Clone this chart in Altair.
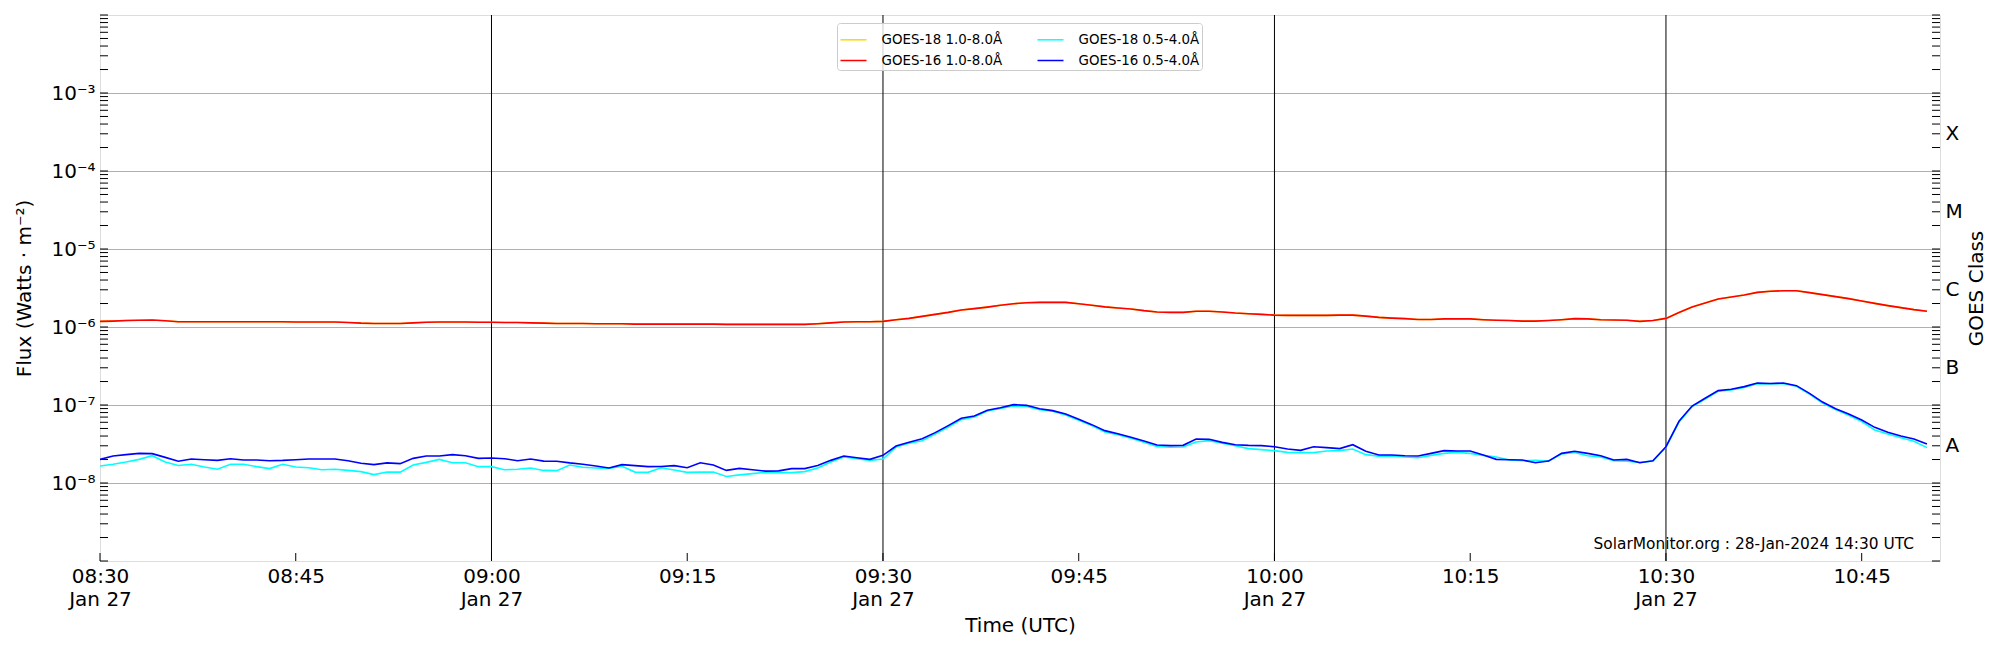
import altair as alt
import pandas as pd

# ---------------- data (1-minute cadence starting 2024-01-27 08:30 UTC) ----------------
START = "2024-01-27 08:30"

# GOES-16 1.0-8.0 A, in units of 1e-6 W/m^2
g16_long = [
    1.18, 1.19, 1.21, 1.22, 1.23, 1.20, 1.17, 1.17, 1.17, 1.17, 1.17, 1.17,
    1.17, 1.17, 1.17, 1.16, 1.16, 1.16, 1.16, 1.14, 1.12, 1.11, 1.11, 1.11,
    1.13, 1.15, 1.16, 1.16, 1.16, 1.15, 1.15, 1.14, 1.14, 1.13, 1.12, 1.11,
    1.11, 1.11, 1.10, 1.10, 1.10, 1.09, 1.09, 1.09, 1.09, 1.09, 1.09, 1.09,
    1.08, 1.08, 1.08, 1.08, 1.08, 1.08, 1.08, 1.10, 1.13, 1.16, 1.17, 1.17,
    1.18, 1.24, 1.29, 1.37, 1.45, 1.54, 1.65, 1.72, 1.80, 1.90, 1.99, 2.05,
    2.07, 2.07, 2.07, 1.99, 1.90, 1.81, 1.75, 1.70, 1.62, 1.56, 1.54, 1.54,
    1.59, 1.59, 1.56, 1.51, 1.48, 1.45, 1.42, 1.41, 1.41, 1.41, 1.41, 1.42,
    1.42, 1.38, 1.33, 1.30, 1.28, 1.25, 1.25, 1.27, 1.27, 1.27, 1.24, 1.22,
    1.21, 1.19, 1.19, 1.21, 1.24, 1.28, 1.27, 1.24, 1.23, 1.22, 1.18, 1.21,
    1.29, 1.53, 1.81, 2.03, 2.28, 2.42, 2.57, 2.78, 2.87, 2.92, 2.92, 2.76,
    2.60, 2.45, 2.31, 2.15, 2.01, 1.88, 1.77, 1.67, 1.59,
]

# GOES-18 1.0-8.0 A (drawn underneath GOES-16 and hidden by it), units of 1e-6 W/m^2
g18_long = list(g16_long)

# GOES-16 0.5-4.0 A, in units of 1e-8 W/m^2
g16_short = [
    2.01, 2.22, 2.31, 2.40, 2.38, 2.13, 1.90, 2.03, 1.99, 1.95, 2.05, 1.97,
    1.97, 1.93, 1.95, 1.99, 2.03, 2.03, 2.03, 1.93, 1.79, 1.72, 1.81, 1.77,
    2.07, 2.22, 2.22, 2.31, 2.24, 2.07, 2.09, 2.05, 1.93, 2.03, 1.91, 1.90,
    1.81, 1.74, 1.65, 1.56, 1.72, 1.67, 1.62, 1.63, 1.67, 1.57, 1.82, 1.70,
    1.45, 1.54, 1.48, 1.42, 1.43, 1.53, 1.53, 1.68, 1.95, 2.22, 2.11, 2.01,
    2.26, 2.98, 3.32, 3.70, 4.42, 5.44, 6.75, 7.23, 8.55, 9.24, 10.1, 9.9,
    8.97, 8.47, 7.67, 6.56, 5.60, 4.69, 4.29, 3.85, 3.45, 3.07, 3.01, 3.04,
    3.67, 3.63, 3.32, 3.10, 3.04, 3.01, 2.92, 2.73, 2.62, 2.92, 2.84, 2.76,
    3.10, 2.55, 2.29, 2.29, 2.24, 2.22, 2.40, 2.60, 2.57, 2.57, 2.29, 2.01,
    1.99, 1.97, 1.82, 1.91, 2.40, 2.55, 2.40, 2.24, 1.97, 2.01, 1.82, 1.93,
    2.92, 6.18, 9.71, 12.2, 15.3, 15.9, 17.2, 19.1, 18.9, 19.1, 17.7, 14.1,
    10.9, 8.97, 7.67, 6.42, 5.17, 4.46, 4.00, 3.67, 3.16,
]

# GOES-18 0.5-4.0 A, in units of 1e-8 W/m^2
g18_short = [
    1.65, 1.74, 1.86, 2.01, 2.24, 1.86, 1.68, 1.74, 1.60, 1.50, 1.74, 1.74,
    1.62, 1.53, 1.74, 1.60, 1.57, 1.48, 1.50, 1.45, 1.40, 1.28, 1.38, 1.38,
    1.70, 1.84, 2.01, 1.82, 1.82, 1.62, 1.62, 1.48, 1.50, 1.56, 1.45, 1.44,
    1.70, 1.59, 1.56, 1.54, 1.64, 1.38, 1.37, 1.57, 1.47, 1.37, 1.38, 1.38,
    1.21, 1.27, 1.32, 1.37, 1.36, 1.36, 1.40, 1.56, 1.86, 2.15, 2.05, 1.95,
    2.03, 2.89, 3.23, 3.49, 4.25, 5.22, 6.49, 7.01, 8.39, 9.06, 9.7, 9.6,
    8.72, 8.31, 7.45, 6.36, 5.44, 4.51, 4.17, 3.74, 3.32, 2.95, 2.87, 2.89,
    3.36, 3.49, 3.23, 3.01, 2.76, 2.68, 2.60, 2.47, 2.45, 2.45, 2.57, 2.60,
    2.73, 2.31, 2.20, 2.22, 2.15, 2.11, 2.26, 2.40, 2.47, 2.40, 2.26, 2.15,
    1.97, 1.93, 1.95, 1.91, 2.35, 2.47, 2.24, 2.15, 1.93, 1.90, 1.84, 1.91,
    2.87, 6.06, 9.5, 11.9, 15.0, 15.6, 16.8, 18.8, 18.6, 18.8, 17.4, 13.8,
    10.6, 8.72, 7.38, 6.12, 4.78, 4.25, 3.81, 3.42, 2.84,
]

S18L = "GOES-18 1.0-8.0Å"
S16L = "GOES-16 1.0-8.0Å"
S18S = "GOES-18 0.5-4.0Å"
S16S = "GOES-16 0.5-4.0Å"

series_order = [S18L, S16L, S18S, S16S]          # legend order (column-wise, 2 columns)
series_colors = ["#ffd700", "#ff0000", "#00ffff", "#0000ff"]

half_hour_lines = ["09:00", "09:30", "10:00", "10:30"]
tick_times = ["08:30", "08:45", "09:00", "09:15", "09:30", "09:45", "10:00", "10:15", "10:30", "10:45"]
watermark = "SolarMonitor.org : 28-Jan-2024 14:30 UTC"

# ---------------- build tables ----------------
frames = []
for name, vals, unit in [(S18L, g18_long, 1e-6), (S16L, g16_long, 1e-6),
                         (S18S, g18_short, 1e-8), (S16S, g16_short, 1e-8)]:
    t = pd.date_range(START, periods=len(vals), freq="min", tz="UTC")
    frames.append(pd.DataFrame({"time": t, "flux": [v * unit for v in vals], "series": name}))
df = pd.concat(frames, ignore_index=True)

def utc_times(hhmm):
    return pd.to_datetime(["2024-01-27 " + h for h in hhmm]).tz_localize("UTC")

rules_df = pd.DataFrame({"time": utc_times(half_hour_lines)})
xtick_df = pd.DataFrame({"time": utc_times(tick_times)})
minor = [m * 10.0 ** e for e in range(-9, -2) for m in range(1, 10)] + [1e-2]
ytick_df = pd.DataFrame({"v": minor})

# ---------------- scales / axes ----------------
W, H = 1840, 546
FONT = "DejaVu Sans"
TICK = 8

def dt(h, m):
    return alt.DateTime(year=2024, month=1, date=27, hours=h, minutes=m, utc=True)

xscale = alt.Scale(type="utc", domain=[dt(8, 30), dt(10, 51)])
yscale = alt.Scale(type="log", domain=[1e-9, 1e-2], nice=False)
cscale = alt.Scale(domain=series_order, range=series_colors)

xticks = [dt(int(s[:2]), int(s[3:])) for s in tick_times]
decades = [10.0 ** e for e in range(-8, -2)]
class_pos = [3 * 10.0 ** e for e in range(-8, -3)]

legend = alt.Legend(
    title=None, orient="none", legendX=737, legendY=8, columns=2,
    symbolType="stroke", symbolSize=676, symbolStrokeWidth=1.5,
    labelFontSize=13.4, labelFont=FONT, labelColor="black", labelOffset=14,
    padding=2.5, rowPadding=-3, columnPadding=32,
    fillColor="rgba(255,255,255,0.8)", strokeColor="#cccccc", cornerRadius=3,
)

sup = "['⁰','¹','²','³','⁴','⁵','⁶','⁷','⁸','⁹']"

x_main = alt.Axis(
    orient="bottom", values=xticks, ticks=False, domain=False, grid=False,
    labelExpr="utcminutes(datum.value) % 30 == 0 ? [utcFormat(datum.value, '%H:%M'), utcFormat(datum.value, '%b %d')] : utcFormat(datum.value, '%H:%M')",
    labelFontSize=20, labelFont=FONT, labelColor="black", labelPadding=5, labelLineHeight=23,
    labelFlush=False, labelOverlap=False,
    title="Time (UTC)", titleFontSize=20, titleFont=FONT, titleFontWeight="normal", titleColor="black",
    titleX=W / 2, titleY=64, titleBaseline="middle", titleAlign="center",
)
y_main = alt.Axis(
    orient="left", values=decades, ticks=False, domain=False, grid=True,
    gridColor="#b0b0b0", gridWidth=1,
    labelExpr="'10⁻' + " + sup + "[-round(log(datum.value) / LN10)]",
    labelFontSize=20, labelFont=FONT, labelColor="black", labelPadding=5,
    title="Flux (Watts · m⁻²)", titleFontSize=20, titleFont=FONT, titleFontWeight="normal",
    titleColor="black", titleX=-76, titleY=H / 2, titleAngle=270, titleBaseline="middle",
    titleAlign="center",
)
y_class = alt.Axis(
    orient="right", values=class_pos, ticks=False, domain=False, grid=False,
    labelExpr="['A','B','C','M','X'][floor(log(datum.value) / LN10) + 8]",
    labelFontSize=20, labelFont=FONT, labelColor="black", labelPadding=5,
    title="GOES Class", titleFontSize=20, titleFont=FONT, titleFontWeight="normal",
    titleColor="black", titleX=36, titleY=H / 2, titleAngle=270, titleBaseline="middle",
    titleAlign="center",
)

base = alt.Chart(df)

def line_layer(name, xaxis, yaxis):
    return base.transform_filter(alt.datum.series == name).mark_line(strokeWidth=1.6, clip=True).encode(
        x=alt.X("time:T", scale=xscale, axis=xaxis),
        y=alt.Y("flux:Q", scale=yscale, axis=yaxis),
        color=alt.Color("series:N", scale=cscale, legend=legend),
    )

l_gold = line_layer(S18L, x_main, y_main)
l_red = line_layer(S16L, None, None)
l_cyan = line_layer(S18S, None, y_class)
l_blue = line_layer(S16S, None, None)

rules = alt.Chart(rules_df).mark_rule(color="black", strokeWidth=1).encode(
    x=alt.X("time:T", scale=xscale, axis=None)
)

# inward-pointing tick marks (matplotlib "in" ticks)
xt = alt.Chart(xtick_df).mark_rule(color="black", strokeWidth=1).encode(
    x=alt.X("time:T", scale=xscale, axis=None), y=alt.value(H - TICK), y2=alt.value(H)
)
yt_left = alt.Chart(ytick_df).mark_rule(color="black", strokeWidth=1).encode(
    y=alt.Y("v:Q", scale=yscale, axis=None), x=alt.value(0), x2=alt.value(TICK)
)
yt_right = alt.Chart(ytick_df).mark_rule(color="black", strokeWidth=1).encode(
    y=alt.Y("v:Q", scale=yscale, axis=None), x=alt.value(W - TICK), x2=alt.value(W)
)

wm = alt.Chart(pd.DataFrame({"t": [watermark]})).mark_text(
    align="right", baseline="alphabetic", fontSize=15.4, font=FONT, color="black"
).encode(text="t:N", x=alt.value(W - 26), y=alt.value(H - 12))

chart = alt.layer(rules, xt, yt_left, yt_right, l_gold, l_red, l_cyan, l_blue, wm).resolve_axis(
    x="independent", y="independent"
).properties(
    width=W, height=H,
    autosize=alt.AutoSizeParams(type="none"),
    padding={"left": 92, "top": 7, "right": 52, "bottom": 78},
).configure_view(stroke="black", strokeWidth=1.2).configure(font=FONT, background="white")

chart.save("out.html", embed_options={"renderer": "svg", "actions": False})
